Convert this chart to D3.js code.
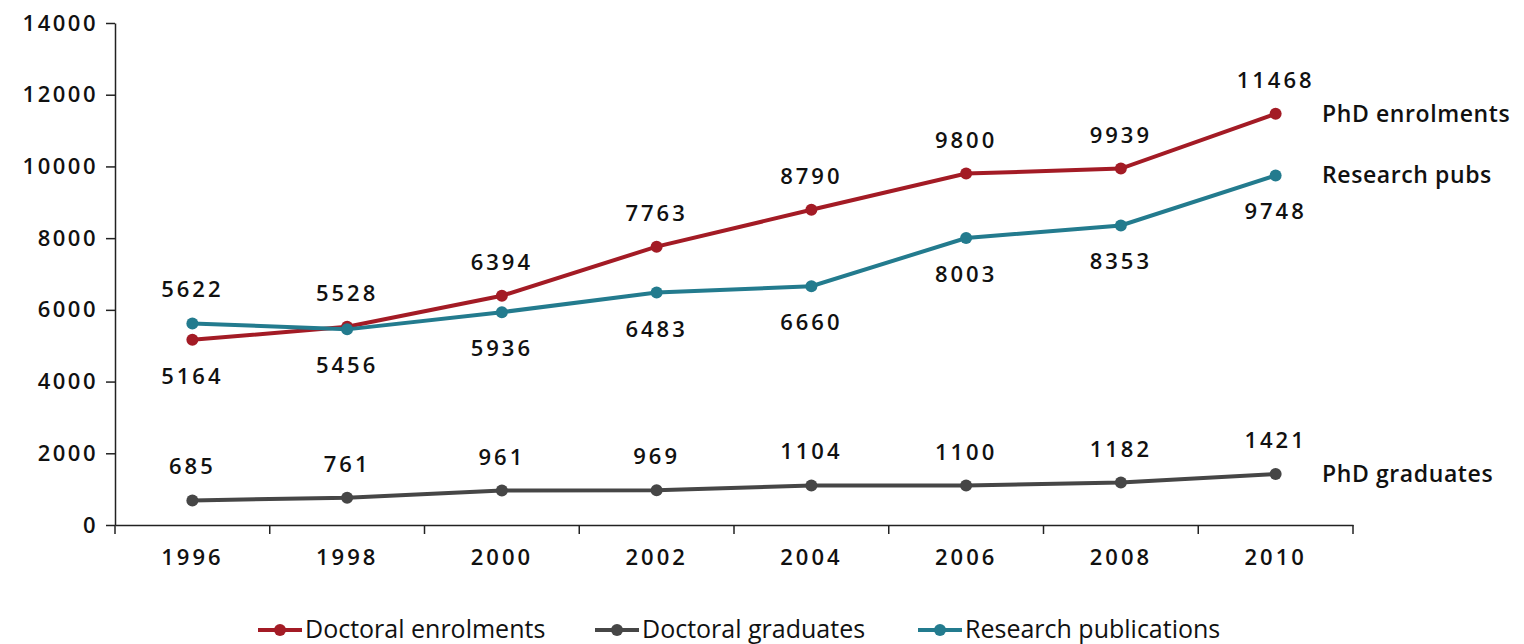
<!DOCTYPE html>
<html><head><meta charset="utf-8">
<script src="https://cdn.jsdelivr.net/npm/d3@7"></script>
<style>
body{margin:0;background:#fff;}
text{font-family:"Open Sans","DejaVu Sans",sans-serif;}
</style></head>
<body><svg id="c" width="1524" height="644"></svg>
<script>
const years = ["1996","1998","2000","2002","2004","2006","2008","2010"];
const enrolments = [5164,5528,6394,7763,8790,9800,9939,11468];
const graduates = [685,761,961,969,1104,1100,1182,1421];
const publications = [5622,5456,5936,6483,6660,8003,8353,9748];
const yTicks = [0,2000,4000,6000,8000,10000,12000,14000];
const enrolPos = ["below","above","above","above","above","above","above","above"];
const gradPos = ["above","above","above","above","above","above","above","above"];
const pubPos = ["above","below","below","below","below","below","below","below"];

const svg = d3.select("#c");
const x = d3.scaleBand().domain(years).range([115,1353]);
const y = d3.scaleLinear().domain([0,14000]).range([525,23]);

// y axis
const ya = svg.append("g").attr("transform","translate(115,0)")
  .call(d3.axisLeft(y).tickValues(yTicks).tickFormat(d3.format("d")).tickSize(9).tickPadding(8).tickSizeOuter(0));
ya.select(".domain").attr("stroke","#222").attr("stroke-width",1.5);
ya.selectAll(".tick line").attr("stroke","#222").attr("stroke-width",1.5);
ya.selectAll("text").attr("font-size",22).attr("font-weight",600).attr("fill","#111").attr("letter-spacing",2.5);

// x axis
const xa = svg.append("g").attr("transform","translate(0,525)")
  .call(d3.axisBottom(x).tickSize(0).tickPadding(24));
xa.select(".domain").attr("stroke","#222").attr("stroke-width",1.5);
xa.selectAll("text").attr("font-size",22).attr("font-weight",600).attr("fill","#111").attr("letter-spacing",3);
// boundary ticks
const bounds = years.map(d=>x(d)).concat([x.range()[1]]);
svg.append("g").selectAll("line").data(bounds).join("line")
  .attr("x1",d=>d).attr("x2",d=>d).attr("y1",525).attr("y2",534)
  .attr("stroke","#222").attr("stroke-width",1.5);

const cx = d=>x(d)+x.bandwidth()/2;
const series = [
  {name:"Doctoral enrolments", vals:enrolments, pos:enrolPos, color:"#a31b25", end:"PhD enrolments"},
  {name:"Doctoral graduates", vals:graduates, pos:gradPos, color:"#464646", end:"PhD graduates"},
  {name:"Research publications", vals:publications, pos:pubPos, color:"#237b8e", end:"Research pubs"}
];
const line = d3.line().x(d=>cx(d.year)).y(d=>y(d.v));
series.forEach(s=>{
  const data = years.map((yr,i)=>({year:yr,v:s.vals[i],pos:s.pos[i]}));
  svg.append("path").datum(data).attr("d",line).attr("fill","none")
    .attr("stroke",s.color).attr("stroke-width",4);
  svg.append("g").selectAll("circle").data(data).join("circle")
    .attr("cx",d=>cx(d.year)).attr("cy",d=>y(d.v)).attr("r",6).attr("fill",s.color);
  svg.append("g").selectAll("text").data(data).join("text")
    .attr("x",d=>cx(d.year)).attr("y",d=>y(d.v)+(d.pos==="above"?-26:44))
    .attr("text-anchor","middle").attr("font-size",22).attr("font-weight",600)
    .attr("fill","#111").attr("letter-spacing",3).text(d=>d.v);
  const last = data[data.length-1];
  svg.append("text").attr("x",1322).attr("y",y(last.v)+8)
    .attr("font-size",23).attr("font-weight",600).attr("fill","#111").attr("letter-spacing",0.6).text(s.end);
});

// legend
const lx = [258,595,918];
series.forEach((s,i)=>{
  const g = svg.append("g").attr("transform",`translate(${lx[i]},630)`);
  g.append("line").attr("x1",0).attr("x2",44).attr("stroke",s.color).attr("stroke-width",4);
  g.append("circle").attr("cx",22).attr("r",6).attr("fill",s.color);
  g.append("text").attr("x",47).attr("y",8).attr("font-size",25)
    .attr("font-family","'DejaVu Sans Condensed','Liberation Sans Narrow',sans-serif")
    .attr("fill","#111").text(s.name);
});
</script></body></html>
